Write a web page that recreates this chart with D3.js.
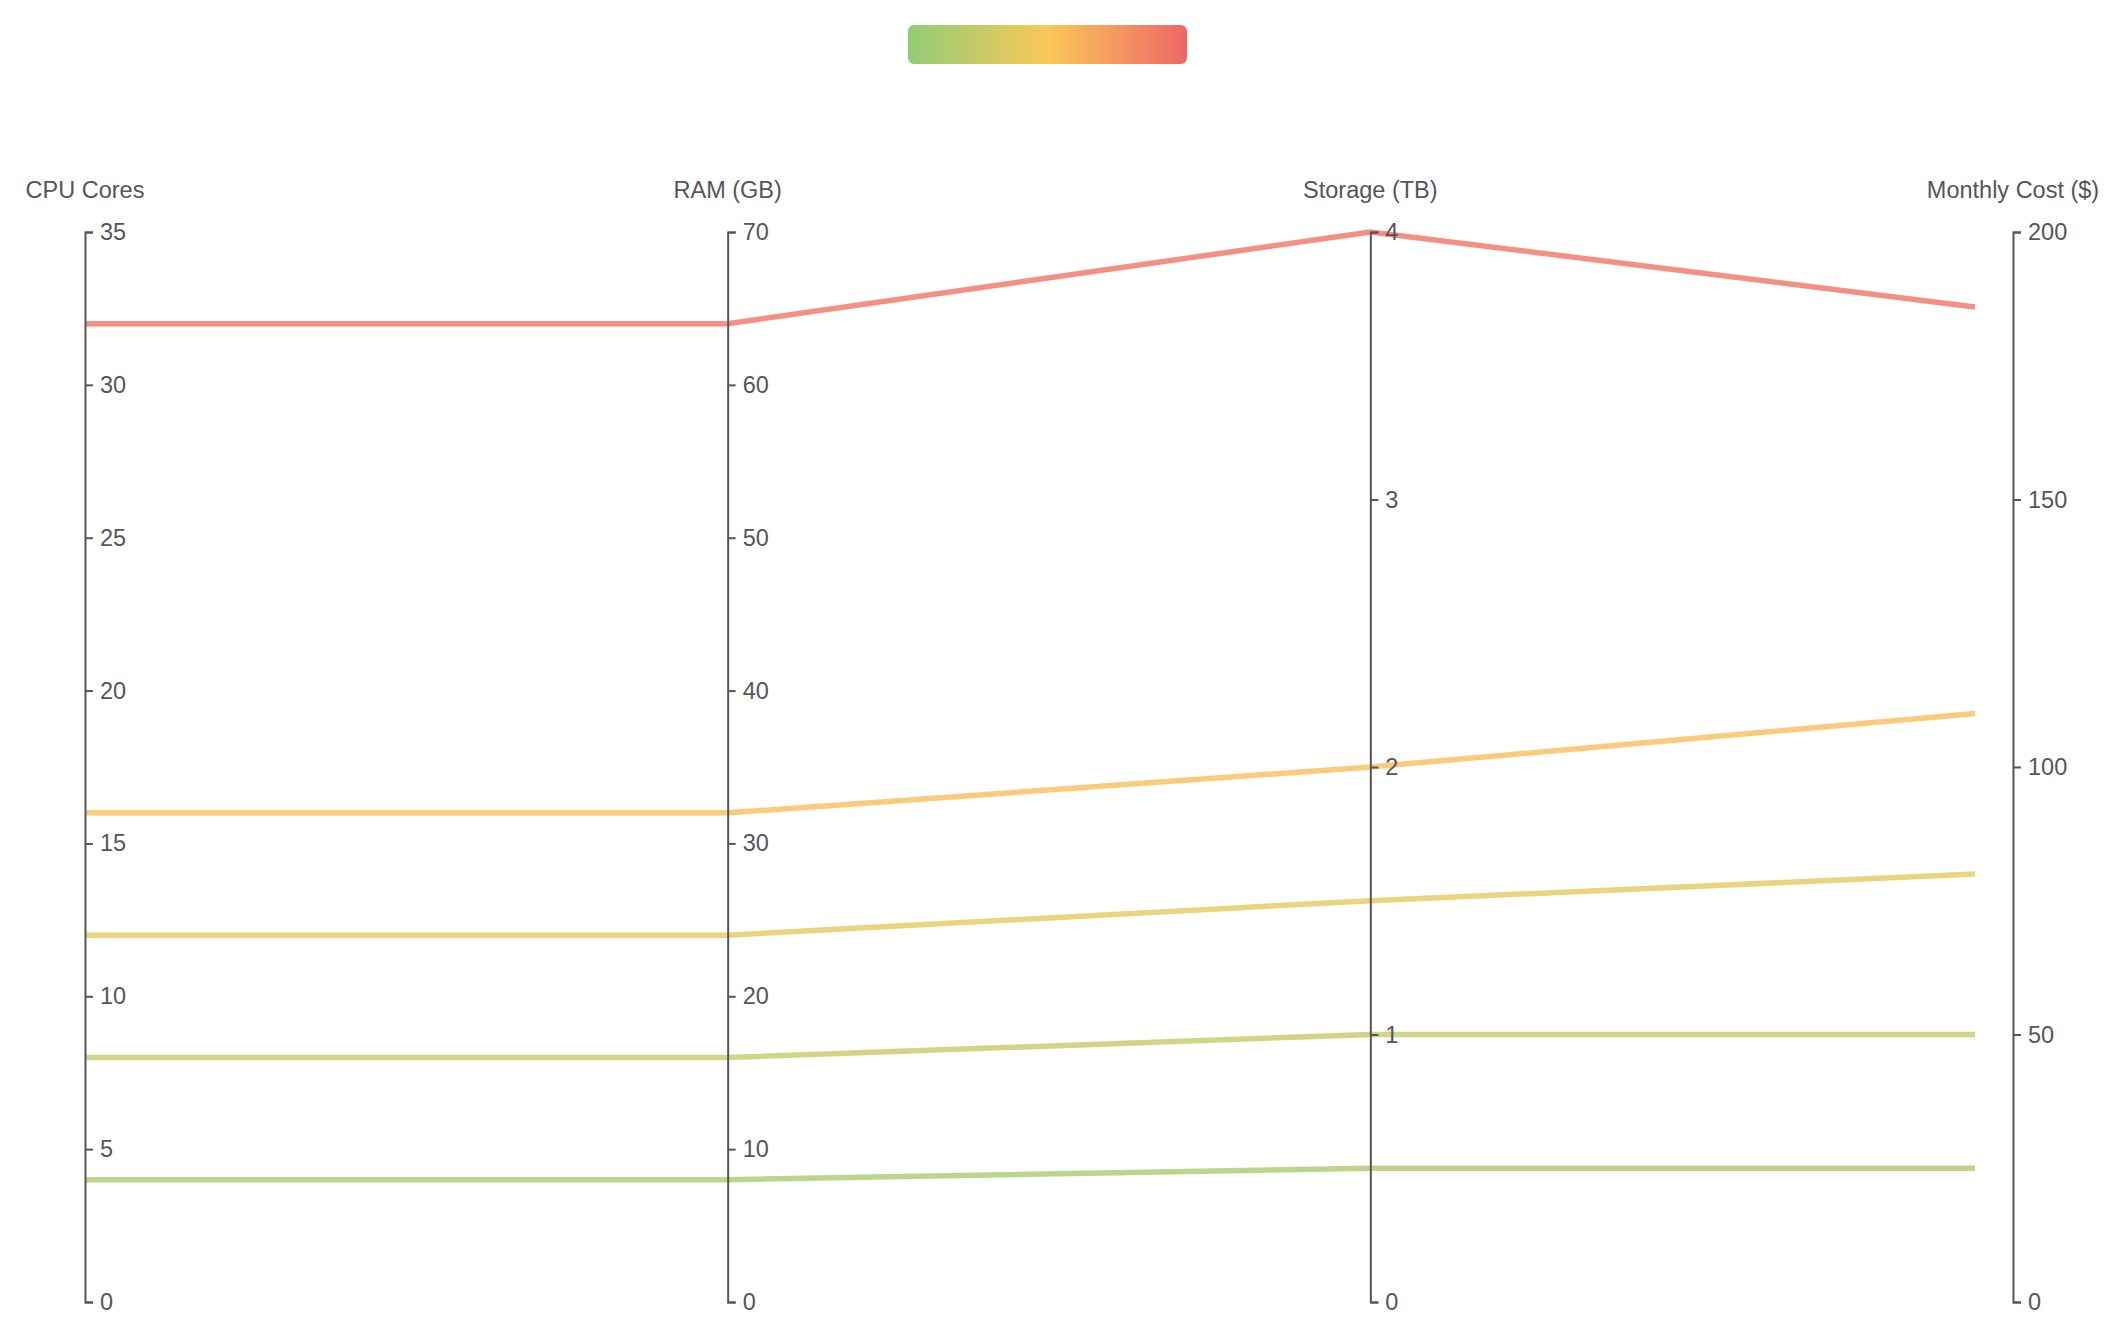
<!DOCTYPE html>
<html>
<head>
<meta charset="utf-8">
<script src="https://cdn.jsdelivr.net/npm/d3@7"></script>
<style>
  html, body { margin: 0; padding: 0; background: #fff; }
  svg { display: block; font-family: "Liberation Sans", Arial, sans-serif; }
</style>
</head>
<body>
<div id="chart"></div>
<script>
// dimensions and their ranges
var dims = ["CPU Cores", "RAM (GB)", "Storage (TB)", "Monthly Cost ($)"];
var dimMax = [35, 70, 4, 200];
var dimTicks = [
  [0, 5, 10, 15, 20, 25, 30, 35],
  [0, 10, 20, 30, 40, 50, 60, 70],
  [0, 1, 2, 3, 4],
  [0, 50, 100, 150, 200]
];

// one entry per server configuration
var cpuCores = [32, 16, 12, 8, 4];
var ramGB = [64, 32, 24, 16, 8];
var storageTB = [4, 2, 1.5, 1, 0.5];
var monthlyCost = [186, 110, 80, 50, 25];

// colour ramp (used for legend and lines, keyed by cost)
var rampStops = [0, 100, 200];
var rampColors = ["#91cc75", "#fac858", "#ee6666"];

var W = 2123, H = 1333;
var yTop = 232, yBottom = 1302;
var xLeft = 85, xRight = 2013;
var lastInset = 38;

var rows = cpuCores.map(function (d, i) {
  return [cpuCores[i], ramGB[i], storageTB[i], monthlyCost[i]];
});

var svg = d3.select("#chart")
  .append("svg")
  .attr("width", W)
  .attr("height", H);

var x = d3.scalePoint()
  .domain(dims)
  .range([xLeft, xRight]);

var y = dims.map(function (d, i) {
  return d3.scaleLinear().domain([0, dimMax[i]]).range([yBottom, yTop]);
});

var color = d3.scaleLinear()
  .domain(rampStops)
  .range(rampColors);

// legend bar
var grad = svg.append("defs").append("linearGradient")
  .attr("id", "ramp")
  .attr("x1", "0%").attr("x2", "100%")
  .attr("y1", "0%").attr("y2", "0%");
grad.selectAll("stop")
  .data(rampStops)
  .enter().append("stop")
  .attr("offset", function (d) { return (d / 200 * 100) + "%"; })
  .attr("stop-color", function (d) { return color(d); });

svg.append("rect")
  .attr("x", 908)
  .attr("y", 25)
  .attr("width", 279)
  .attr("height", 39)
  .attr("rx", 6)
  .attr("fill", "url(#ramp)");

// lines
function lineX(i) {
  return x(dims[i]) - (i === dims.length - 1 ? lastInset : 0);
}

var line = d3.line()
  .x(function (d, i) { return lineX(i); })
  .y(function (d, i) { return y[i](d); });

svg.append("g")
  .selectAll("path")
  .data(rows)
  .enter().append("path")
  .attr("d", line)
  .attr("fill", "none")
  .attr("stroke", function (d) { return color(d[3]); })
  .attr("stroke-opacity", 0.8)
  .attr("stroke-width", 5.5);

// axes
dims.forEach(function (name, i) {
  var g = svg.append("g")
    .attr("transform", "translate(" + x(name) + ",0)")
    .call(d3.axisRight(y[i])
      .tickValues(dimTicks[i])
      .tickFormat(d3.format("~g"))
      .tickSize(8)
      .tickPadding(7));

  g.selectAll(".domain, .tick line")
    .attr("stroke", "#55555a")
    .attr("stroke-width", 2);
  g.selectAll(".tick text")
    .attr("fill", "#55555a")
    .style("font-size", "23.5px")
    .style("font-family", "'Liberation Sans', Arial, sans-serif");

  g.append("text")
    .attr("x", 0)
    .attr("y", 198)
    .attr("text-anchor", "middle")
    .attr("fill", "#55555a")
    .style("font-size", "23.5px")
    .style("font-family", "'Liberation Sans', Arial, sans-serif")
    .text(name);
});
</script>
</body>
</html>
